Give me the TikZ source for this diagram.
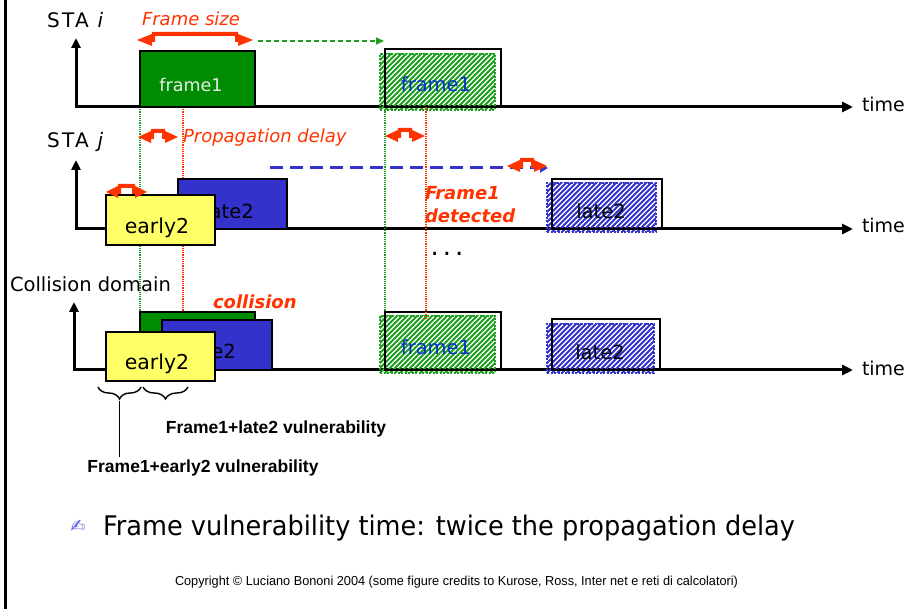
\documentclass[tikz,border=0pt]{standalone}
\usepackage{fontspec}
\setmainfont{DejaVu Sans}
\newfontfamily\arialfont{Liberation Sans}
\newfontfamily\spacedfont[LetterSpace=12]{DejaVu Sans}
\usetikzlibrary{arrows.meta,decorations.pathreplacing}

\definecolor{accent}{RGB}{255,51,0}
\definecolor{framegreen}{RGB}{0,140,0}
\definecolor{hatchgreen}{RGB}{30,160,30}
\definecolor{guidegreen}{RGB}{30,160,30}
\definecolor{lateblue}{RGB}{51,51,204}
\definecolor{earlyyellow}{RGB}{255,255,102}
\definecolor{textblue}{RGB}{0,51,204}
\definecolor{penblue}{RGB}{90,90,220}

% red two-headed span marker: x start, width, y centre, head length
\newcommand\spanarrow[4]{%
  \fill[accent, shift={(#1,#3)}] (0,0) -- (#4,-6) -- (#4,-8) -- ({#2-#4},-8)
    -- ({#2-#4},-6) -- (#2,0) -- ({#2-#4},6) -- ({#2-#4},2) -- ({#2-#4-3},2)
    -- ({#2-#4-3},-4) -- ({#4+3},-4) -- ({#4+3},2) -- (#4,2) -- (#4,6) -- cycle;}

% diagonal stripes inside a named node: node name, colour
\newcommand\stripes[2]{%
  \begin{scope}
    \clip (#1.south west) rectangle (#1.north east);
    \path (#1.south west) coordinate (sw);
    \foreach \k in {-70,-65,...,125}
      \draw[#2, line width=2pt] ([xshift=\k pt]sw) -- ++(75,-75);
  \end{scope}}

\begin{document}
\begin{tikzpicture}[x=1pt,y=-1pt,
  every node/.style={inner sep=0pt, outer sep=0pt},
  lab/.style={font=\fontsize{19}{22}\selectfont},
  stalab/.style={font=\spacedfont\fontsize{20}{22}\selectfont},
  redlab/.style={font=\fontsize{18}{21}\selectfont\itshape, text=accent},
  boldred/.style={font=\fontsize{18}{21}\selectfont\bfseries\itshape, text=accent},
  vulnlab/.style={font=\arialfont\fontsize{17.5}{20}\selectfont\bfseries},
  axisline/.style={line width=3pt, line join=miter,
    {Triangle[length=10pt,width=9pt]}-{Triangle[length=11pt,width=10pt]}},
  solidbox/.style={rectangle, draw=black, line width=1.2pt},
  ghostbox/.style={rectangle, draw=black, line width=1.2pt},
  greenhatch/.style={rectangle, draw=hatchgreen, dash pattern=on 2pt off 1.5pt, line width=1.8pt},
  bluehatch/.style={rectangle, draw=lateblue, dash pattern=on 2pt off 1.5pt, line width=1.8pt},
  guide/.style={line width=1.2pt, densely dotted},
  brace/.style={decorate, decoration={brace, mirror, amplitude=12pt}, line width=1.4pt}
]
\useasboundingbox (0,0) rectangle (910,609);

% left frame edge
\draw[line width=3pt] (5,0) -- (5,609);

% ---------- axes ----------
\coordinate (yi) at (76,38);  \coordinate (ti) at (853,107);
\coordinate (yj) at (76,160); \coordinate (tj) at (853,229);
\coordinate (yc) at (74,302); \coordinate (tc) at (853,370);
\draw[axisline] (yi) |- (ti);
\draw[axisline] (yj) |- (tj);
\draw[axisline] (yc) |- (tc);
\node[lab, anchor=base west] (timei) at (862,112) {time};
\node[lab, anchor=base west] (timej) at (862,233) {time};
\node[lab, anchor=base west] (timec) at (862,376) {time};

% ---------- row labels ----------
\node[stalab, anchor=base west] (stai) at (47,28) {STA \textit{i}};
\node[stalab, anchor=base west] (staj) at (47,148) {STA \textit{j}};
\node[font=\fontsize{19.5}{22}\selectfont, anchor=base west] (cdom) at (10,292) {Collision domain};

% ---------- guide lines ----------
\coordinate (g1a) at (140,107); \coordinate (g1b) at (140,312);
\coordinate (r1a) at (183,107); \coordinate (r1b) at (183,320);
\coordinate (g2a) at (385,107); \coordinate (g2b) at (385,312);
\coordinate (r2a) at (426,107); \coordinate (r2b) at (426,320);
\draw[guide, guidegreen] (g1a) -- (g1b);
\draw[guide, accent] (r1a) -- (r1b);
\draw[guide, guidegreen] (g2a) -- (g2b);

% ---------- STA i ----------
\node[solidbox, fill=framegreen, minimum width=115pt, minimum height=56pt] (f1i) at (197.5,79) {};
\node[font=\fontsize{17.5}{20}\selectfont, text=white!92!black] (f1itxt) at (191,85) {frame1};
\node[greenhatch, minimum width=115pt, minimum height=56pt] (f1ih) at (437.5,82) {};
\stripes{f1ih}{hatchgreen}
\node[ghostbox, minimum width=116pt, minimum height=58pt] (f1ir) at (443,78) {};
\node[font=\fontsize{19.5}{22}\selectfont, text=textblue] (f1ihtxt) at (436,84) {frame1};
\node[redlab, anchor=base west] (fsize) at (142,26) {Frame size};
\spanarrow{137}{116}{40}{15}
\coordinate (gs) at (258,41); \coordinate (ge) at (384,41);
\draw[guidegreen, line width=1.6pt, dash pattern=on 5pt off 3pt,
  -{Triangle[length=8pt,width=7pt]}] (gs) -- (ge);

% ---------- propagation markers ----------
\spanarrow{138}{40}{137}{13}
\spanarrow{385}{40}{136}{13}
\node[redlab, anchor=base west] (pdelay) at (183,143) {Propagation delay};

% ---------- STA j ----------
\node[solidbox, fill=lateblue, minimum width=109pt, minimum height=50pt] (l2j) at (232.5,204) {};
\node[font=\fontsize{19.5}{22}\selectfont] (l2jtxt) at (229,211) {late2};
\node[solidbox, fill=earlyyellow, minimum width=109pt, minimum height=50pt] (e2j) at (160.5,220) {};
\node[font=\fontsize{20.5}{23}\selectfont] (e2jtxt) at (157,228) {early2};
\spanarrow{106}{41}{192}{12}
\node[bluehatch, minimum width=109pt, minimum height=49pt] (l2jh) at (601.5,207.5) {};
\stripes{l2jh}{lateblue}
\node[ghostbox, minimum width=110pt, minimum height=50pt] (l2jr) at (607,204) {};
\node[font=\fontsize{19.5}{22}\selectfont] (l2jhtxt) at (601,211) {late2};
\coordinate (bs) at (270,168); \coordinate (be) at (548,168);
\draw[lateblue, line width=3pt, dash pattern=on 13pt off 7pt,
  -{Triangle[length=8pt,width=9pt]}] (bs) -- (be);
\spanarrow{507}{40}{166}{13}
\node[boldred, anchor=base west] (det1) at (425,200) {Frame1};
\node[boldred, anchor=base west] (det2) at (425,223) {detected};
\node[font=\fontsize{26}{28}\selectfont] (dots) at (447,254) {.\hspace{4pt}.\hspace{4pt}.};

% ---------- collision domain ----------
\node[solidbox, fill=framegreen, minimum width=115pt, minimum height=58pt] (f1c) at (197.5,341) {};
\node[solidbox, fill=lateblue, minimum width=110pt, minimum height=50pt] (l2c) at (217,345) {};
\node[font=\fontsize{19.5}{22}\selectfont] (l2ctxt) at (211,351) {late2};
\node[solidbox, fill=earlyyellow, minimum width=109pt, minimum height=49pt] (e2c) at (160.5,356.5) {};
\node[font=\fontsize{20.5}{23}\selectfont] (e2ctxt) at (157,364) {early2};
\node[greenhatch, minimum width=115pt, minimum height=57pt] (f1ch) at (437.5,344.5) {};
\stripes{f1ch}{hatchgreen}
\node[ghostbox, minimum width=116pt, minimum height=58pt] (f1cr) at (443,341) {};
\node[font=\fontsize{19.5}{22}\selectfont, text=textblue] (f1chtxt) at (436,347) {frame1};
\node[bluehatch, minimum width=107pt, minimum height=49pt] (l2ch) at (600.5,348.5) {};
\stripes{l2ch}{lateblue}
\node[ghostbox, minimum width=108pt, minimum height=51pt] (l2cr) at (606,344.5) {};
\node[font=\fontsize{19.5}{22}\selectfont] (l2chtxt) at (600,352) {late2};
\node[boldred, anchor=base west] (coll) at (213,309) {collision};
\draw[guide, accent] (r2a) -- (r2b);

% ---------- vulnerability braces ----------
\coordinate (b1a) at (98,387);  \coordinate (b1b) at (141,387);
\coordinate (b2a) at (143,387); \coordinate (b2b) at (188,387);
\draw[brace] (b1a) -- (b1b);
\draw[brace] (b2a) -- (b2b);
\coordinate (b1tip) at (119.5,401);
\node[vulnlab] (vlate) at (276,429) {Frame1+late2 vulnerability};
\node[vulnlab] (vearly) at (203,468) {Frame1+early2 vulnerability};
\draw[line width=1.4pt] (b1tip) -- (119.5,457);

% ---------- bullet and footer ----------
\node[font=\fontsize{18}{20}\selectfont, text=penblue] (pen) at (78,526) {✍};
\node[anchor=base west] (bullet) at (103,535)
  {\resizebox{692pt}{\height}{\fontsize{27}{30}\selectfont Frame vulnerability time: twice the propagation delay}};
\node[anchor=base west] (copy) at (175,585)
  {\resizebox{563pt}{\height}{\arialfont\fontsize{13}{15}\selectfont Copyright © Luciano Bononi 2004 (some figure credits to Kurose, Ross, Inter net e reti di calcolatori)}};
\end{tikzpicture}
\end{document}
